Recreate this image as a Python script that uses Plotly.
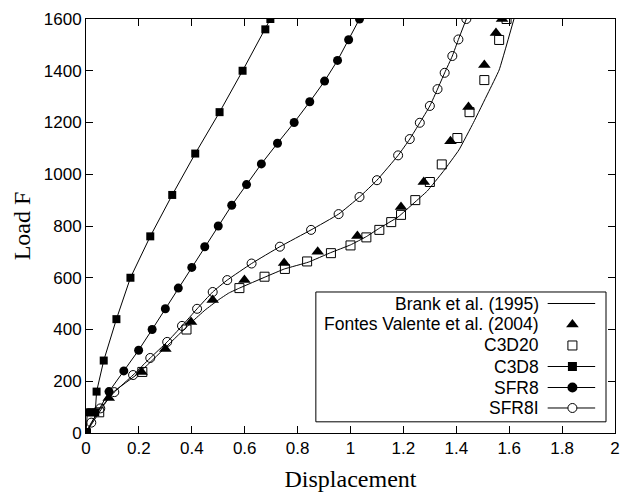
import plotly.graph_objects as go

# ---------------- data ----------------
brank_x = [0, 0.1, 0.2, 0.3, 0.4, 0.45, 0.5, 0.54, 0.58, 0.68, 0.75, 0.84, 0.925, 1.0, 1.06, 1.11,
           1.18, 1.24, 1.29, 1.35, 1.41, 1.465, 1.52, 1.562, 1.618]
brank_y = [0, 155, 232, 330, 429, 475, 514, 541, 560, 604, 634, 660, 697, 727, 759, 792,
           835, 889, 935, 1010, 1094, 1200, 1314, 1403, 1600]

fontes_x = [0, 0.086, 0.21, 0.30, 0.397, 0.479, 0.599, 0.749, 0.876, 1.026, 1.191, 1.277,
            1.378, 1.446, 1.506, 1.55, 1.573]
fontes_y = [0, 135, 236, 325, 429, 514, 591, 657, 700, 761, 873, 970,
            1128, 1260, 1422, 1546, 1600]

c3d20_x = [0, 0.05, 0.213, 0.38, 0.58, 0.675, 0.752, 0.836, 0.926, 1.0, 1.06, 1.109, 1.154,
           1.191, 1.245, 1.30, 1.345, 1.404, 1.45, 1.506, 1.562, 1.59]
c3d20_y = [0, 80, 236, 400, 560, 604, 634, 663, 695, 725, 756, 785, 815,
           843, 900, 970, 1038, 1140, 1240, 1364, 1519, 1600]

c3d8_x = [0, 0.005, 0.02, 0.035, 0.04, 0.067, 0.115, 0.168, 0.243, 0.326, 0.413, 0.505,
          0.592, 0.678, 0.697]
c3d8_y = [0, 80, 80, 80, 160, 280, 440, 600, 760, 920, 1080, 1240, 1400, 1560, 1600]

sfr8_x = [0, 0.087, 0.143, 0.199, 0.25, 0.30, 0.349, 0.40, 0.449, 0.50, 0.551, 0.607, 0.663,
          0.724, 0.787, 0.846, 0.902, 0.951, 0.993, 1.034]
sfr8_y = [0, 160, 240, 320, 400, 480, 560, 640, 720, 800, 880, 960, 1040,
          1120, 1200, 1280, 1360, 1440, 1520, 1600]

sfr8i_x = [0, 0.02, 0.054, 0.107, 0.178, 0.243, 0.307, 0.363, 0.42, 0.479, 0.534, 0.626,
           0.733, 0.851, 0.955, 1.034, 1.10, 1.18, 1.224, 1.262, 1.30, 1.329, 1.356, 1.385,
           1.408, 1.438]
sfr8i_y = [0, 40, 95, 158, 224, 290, 352, 414, 480, 545, 591, 655,
           720, 785, 846, 912, 977, 1073, 1136, 1199, 1264, 1329, 1392, 1457,
           1521, 1600]

legend_labels = ["Brank et al. (1995)", "Fontes Valente et al. (2004)", "C3D20", "C3D8", "SFR8", "SFR8I"]

x_ticks = [0, 0.2, 0.4, 0.6, 0.8, 1, 1.2, 1.4, 1.6, 1.8, 2]
x_tick_text = ["0", "0.2", "0.4", "0.6", "0.8", "1", "1.2", "1.4", "1.6", "1.8", "2"]
y_ticks = [0, 200, 400, 600, 800, 1000, 1200, 1400, 1600]

# ---------------- styles ----------------
BLK = "black"
styles = [
    dict(mode="lines", line=dict(color=BLK, width=1, shape="spline", smoothing=0.3)),
    dict(mode="markers", marker=dict(symbol="triangle-up", size=11, color=BLK)),
    dict(mode="markers", marker=dict(symbol="square-open", size=9, color=BLK, line=dict(width=1))),
    dict(mode="lines+markers", line=dict(color=BLK, width=1),
         marker=dict(symbol="square", size=8, color=BLK)),
    dict(mode="lines+markers", line=dict(color=BLK, width=1),
         marker=dict(symbol="circle", size=9, color=BLK)),
    dict(mode="lines+markers", line=dict(color=BLK, width=1, shape="spline", smoothing=0.4),
         marker=dict(symbol="circle-open", size=9, color=BLK, line=dict(width=1))),
]
series = [(brank_x, brank_y), (fontes_x, fontes_y), (c3d20_x, c3d20_y),
          (c3d8_x, c3d8_y), (sfr8_x, sfr8_y), (sfr8i_x, sfr8i_y)]

fig = go.Figure()
for (xs, ys), st, name in zip(series, styles, legend_labels):
    fig.add_trace(go.Scatter(x=xs, y=ys, name=name, showlegend=False, **st))

# ---------------- custom legend (text right, key on right) ----------------
box_x0, box_x1, box_y0, box_y1 = 0.4345, 0.983, 0.027, 0.3406
row_y = [0.3128, 0.2621, 0.2114, 0.1606, 0.1099, 0.0604]
txt_x = 0.8596
key_x0, key_xm, key_x1 = 0.8727, 0.9195, 0.9625

fig.add_shape(type="rect", xref="paper", yref="paper", x0=box_x0, x1=box_x1, y0=box_y0, y1=box_y1,
              line=dict(color=BLK, width=1), fillcolor="white", layer="below")

legend_key_styles = [
    dict(line=True, marker=None),
    dict(line=False, marker=dict(symbol="triangle-up", size=11, color=BLK)),
    dict(line=False, marker=dict(symbol="square", size=9, color="white", line=dict(color=BLK, width=1))),
    dict(line=True, marker=dict(symbol="square", size=9, color=BLK)),
    dict(line=True, marker=dict(symbol="circle", size=10, color=BLK)),
    dict(line=True, marker=dict(symbol="circle", size=9, color="white", line=dict(color=BLK, width=1))),
]
for ry, ks, lab in zip(row_y, legend_key_styles, legend_labels):
    if ks["line"]:
        fig.add_trace(go.Scatter(x=[key_x0, key_x1], y=[ry, ry], mode="lines",
                                 line=dict(color=BLK, width=1), xaxis="x2", yaxis="y2",
                                 showlegend=False, hoverinfo="skip"))
    if ks["marker"] is not None:
        fig.add_trace(go.Scatter(x=[key_xm], y=[ry], mode="markers", marker=ks["marker"],
                                 xaxis="x2", yaxis="y2", showlegend=False, hoverinfo="skip"))
    fig.add_annotation(text=lab, xref="paper", yref="paper", x=txt_x, y=ry, xanchor="right",
                       yanchor="middle", showarrow=False,
                       font=dict(family="Liberation Sans, Arial", size=17.5, color=BLK))

axis_common = dict(showline=True, linecolor=BLK, linewidth=1, mirror="ticks", ticks="inside",
                   ticklen=7, tickcolor=BLK, tickwidth=1, showgrid=False, zeroline=False,
                   tickfont=dict(family="Liberation Sans, Arial", size=17, color=BLK))

fig.update_layout(
    width=629, height=499,
    margin=dict(l=86, r=9, t=19, b=66),
    paper_bgcolor="white", plot_bgcolor="white",
    xaxis=dict(range=[0, 2], tickvals=x_ticks, ticktext=x_tick_text,
               title=dict(text="Displacement", standoff=12,
                          font=dict(family="Liberation Serif, Times New Roman", size=24, color=BLK)),
               **axis_common),
    yaxis=dict(range=[0, 1600], tickvals=y_ticks,
               title=dict(text="Load F", standoff=6,
                          font=dict(family="Liberation Serif, Times New Roman", size=24, color=BLK)),
               **axis_common),
    xaxis2=dict(overlaying="x", range=[0, 1], visible=False, anchor="y2"),
    yaxis2=dict(overlaying="y", range=[0, 1], visible=False, anchor="x2"),
    showlegend=False,
)

fig.write_html("out.html")
